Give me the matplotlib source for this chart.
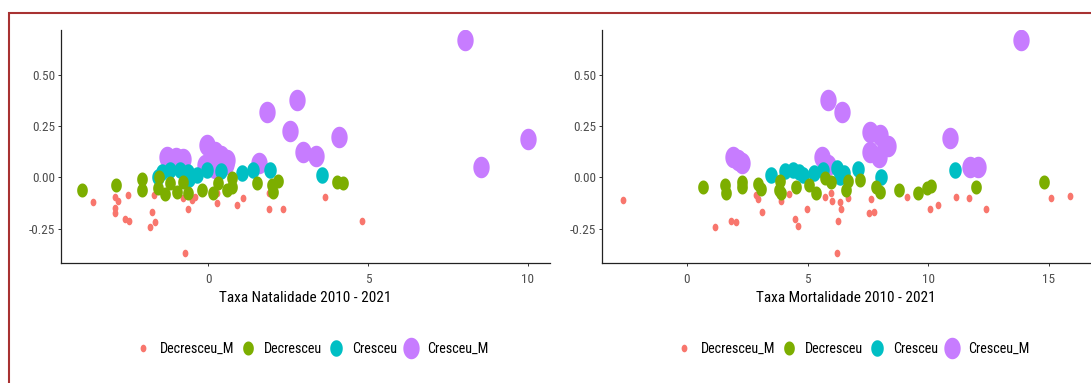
import numpy as np
import matplotlib
matplotlib.use("Agg")
import matplotlib.pyplot as plt
from matplotlib.path import Path
from matplotlib.lines import Line2D
from matplotlib.patches import Rectangle

plt.rcParams['font.family'] = ['Roboto Condensed', 'Liberation Sans', 'DejaVu Sans']

# groups, colours (ggplot hue palette)
grupos = ['Decresceu_M', 'Decresceu', 'Cresceu', 'Cresceu_M']
cores = ['#F8766D', '#7CAE00', '#00BFC4', '#C77CFF']

# --- Taxa Natalidade (x) vs y ---
nat_dm_x = [-3.62, -2.92, -2.82, -2.92, -2.92, -2.5, -2.6, -2.47, -1.77, -1.83, -1.67, -1.69, -0.73,
            -0.62, -0.8, -0.52, -0.42, 0.28, 0.28, 0.89, 1.1, 1.91, 1.91, 2.33, 3.65, 4.8]
nat_dm_y = [-0.119, -0.094, -0.118, -0.151, -0.175, -0.086, -0.205, -0.211, -0.168, -0.24, -0.216, -0.086, -0.367,
            -0.155, -0.102, -0.11, -0.094, -0.075, -0.124, -0.135, -0.099, -0.078, -0.155, -0.155, -0.094, -0.211]
nat_d_x = [-3.94, -2.88, -2.07, -2.07, -1.53, -1.57, -1.36, -1.2, -0.99, -0.78, -0.65, -0.21, 0.16,
           0.31, 0.58, 0.73, 0.73, 1.53, 1.98, 2.19, 2.04, 4.04, 4.21]
nat_d_y = [-0.062, -0.04, -0.01, -0.062, 0.0, -0.05, -0.08, -0.03, -0.07, -0.022, -0.075, -0.062, -0.075,
           -0.029, -0.062, -0.005, -0.046, -0.03, -0.037, -0.018, -0.07, -0.021, -0.026]
nat_c_x = [-1.57, -1.46, -1.2, -0.89, -0.63, -0.36, -0.6, -0.05, 0.4, 1.05, 1.41, 1.93, 3.55]
nat_c_y = [0.003, 0.027, 0.036, 0.036, 0.027, 0.011, -0.01, 0.036, 0.03, 0.02, 0.036, 0.036, 0.011]
nat_cm_x = [8.05, 1.83, 2.78, 2.55, 4.08, 2.95, 3.38, 10.0, 8.53, -0.05, 0.22, 0.4, 0.58, 0.55,
            0.2, -0.1, -1.28, -0.8, 1.6, -1.0]
nat_cm_y = [0.666, 0.317, 0.377, 0.224, 0.197, 0.125, 0.104, 0.188, 0.052, 0.157, 0.125, 0.105, 0.084, 0.065,
            0.045, 0.06, 0.1, 0.09, 0.07, 0.095]

# --- Taxa Mortalidade (x) vs y ---
mor_dm_x = [-2.65, 1.16, 1.81, 2.02, 2.86, 2.96, 3.1, 3.92, 4.24, 4.47, 4.61, 4.96, 5.72, 5.99, 6.03, 6.34,
            6.38, 6.27, 6.23, 6.68, 7.55, 7.74, 7.61, 9.1, 10.09, 10.41, 11.14, 11.69, 12.41, 15.07, 15.86]
mor_dm_y = [-0.111, -0.24, -0.211, -0.216, -0.086, -0.107, -0.171, -0.118, -0.081, -0.205, -0.237, -0.154,
            -0.094, -0.078, -0.115, -0.122, -0.154, -0.211, -0.367, -0.102, -0.175, -0.169, -0.107, -0.094,
            -0.154, -0.135, -0.094, -0.099, -0.154, -0.102, -0.089]
mor_d_x = [0.66, 1.58, 1.63, 2.29, 2.29, 2.94, 3.08, 3.84, 3.8, 3.9, 4.52, 5.05, 5.37, 5.71, 5.99, 6.66,
           6.61, 7.19, 7.83, 8.0, 8.78, 9.56, 9.93, 10.12, 11.97, 14.8]
mor_d_y = [-0.049, -0.037, -0.075, -0.023, -0.049, -0.031, -0.059, -0.017, -0.062, -0.078, -0.046, -0.037,
           -0.078, -0.005, -0.021, -0.017, -0.06, -0.012, -0.046, -0.07, -0.06, -0.078, -0.054, -0.045,
           -0.049, -0.025]
mor_c_x = [3.48, 4.05, 4.4, 4.65, 4.83, 5.27, 5.62, 6.21, 6.35, 6.5, 7.08, 8.04, 11.12]
mor_c_y = [0.011, 0.028, 0.036, 0.025, 0.011, 0.02, 0.036, 0.044, 0.003, 0.02, 0.04, 0.003, 0.037]
mor_cm_x = [13.86, 5.85, 6.43, 7.58, 8.0, 8.2, 8.35, 7.58, 7.95, 10.92, 11.72, 12.06, 1.92, 2.1, 2.27,
            5.58, 5.85]
mor_cm_y = [0.666, 0.377, 0.318, 0.222, 0.205, 0.15, 0.15, 0.125, 0.1, 0.19, 0.052, 0.052, 0.1, 0.085, 0.068,
            0.1, 0.06]

y_ticks = [-0.25, 0.0, 0.25, 0.50]
y_labels = ['-0.25', '0.00', '0.25', '0.50']

# point sizes (scatter s) and drawing order per group
tamanhos = [30, 102, 141, 240]
ordem = [1, 4, 3, 2]

# slightly tall ellipse marker (source picture is stretched vertically)
t = np.linspace(0, 2 * np.pi, 64)
elipse = Path(np.column_stack([0.76 * np.cos(t), np.sin(t)]), closed=True)

fig = plt.figure(figsize=(10.91, 3.83), dpi=100)
W, H = 1091.0, 383.0

paineis = [
    dict(rect=[60.7 / W, 1 - 263.3 / H, 489.4 / W, 233.3 / H], xlim=(-4.62, 10.70), xticks=[0, 5, 10],
         label='Taxa Natalidade 2010 - 2021',
         dados=[(nat_dm_x, nat_dm_y), (nat_d_x, nat_d_y), (nat_c_x, nat_c_y), (nat_cm_x, nat_cm_y)]),
    dict(rect=[601.6 / W, 1 - 263.3 / H, 489.4 / W, 233.3 / H], xlim=(-3.53, 16.74), xticks=[0, 5, 10, 15],
         label='Taxa Mortalidade 2010 - 2021',
         dados=[(mor_dm_x, mor_dm_y), (mor_d_x, mor_d_y), (mor_c_x, mor_c_y), (mor_cm_x, mor_cm_y)]),
]

for p in paineis:
    ax = fig.add_axes(p['rect'])
    for i, (xs, ys) in enumerate(p['dados']):
        ax.scatter(xs, ys, s=tamanhos[i], c=cores[i], marker=elipse, linewidths=0, zorder=ordem[i])
    ax.set_xlim(*p['xlim'])
    ax.set_ylim(-0.419, 0.717)
    ax.set_xticks(p['xticks'])
    ax.set_yticks(y_ticks)
    ax.set_yticklabels(y_labels)
    for s in ['top', 'right']:
        ax.spines[s].set_visible(False)
    for s in ['left', 'bottom']:
        ax.spines[s].set_color('#222222')
        ax.spines[s].set_linewidth(0.9)
    ax.tick_params(axis='both', colors='#333333', labelcolor='#4D4D4D', labelsize=9.5,
                   length=2.5, width=0.7)
    ax.tick_params(axis='x', pad=4.5)
    ax.tick_params(axis='y', pad=1.5)
    ax.set_xlabel(p['label'], fontsize=11, color='black', labelpad=3.5)

    handles = [Line2D([], [], linestyle='', marker=elipse, markersize=np.sqrt(tamanhos[i]),
                      markerfacecolor=cores[i], markeredgewidth=0) for i in range(4)]
    cx = (p['rect'][0] + p['rect'][2] / 2) + 7 / W
    fig.legend(handles, grupos, loc='center', bbox_to_anchor=(cx, 1 - 349 / H), ncol=4, frameon=False,
               fontsize=10.2, handlelength=1.0, handletextpad=0.66, columnspacing=0.46,
               borderpad=0, borderaxespad=0)

# dark red frame (top and left edges visible in the crop)
fig.add_artist(Rectangle((9 / W, -0.1), 1.2, 0.1 + 1 - 13 / H, transform=fig.transFigure,
                         fill=False, edgecolor='#a83232', linewidth=1.5, clip_on=False))

fig.savefig('out.png', dpi=100)
